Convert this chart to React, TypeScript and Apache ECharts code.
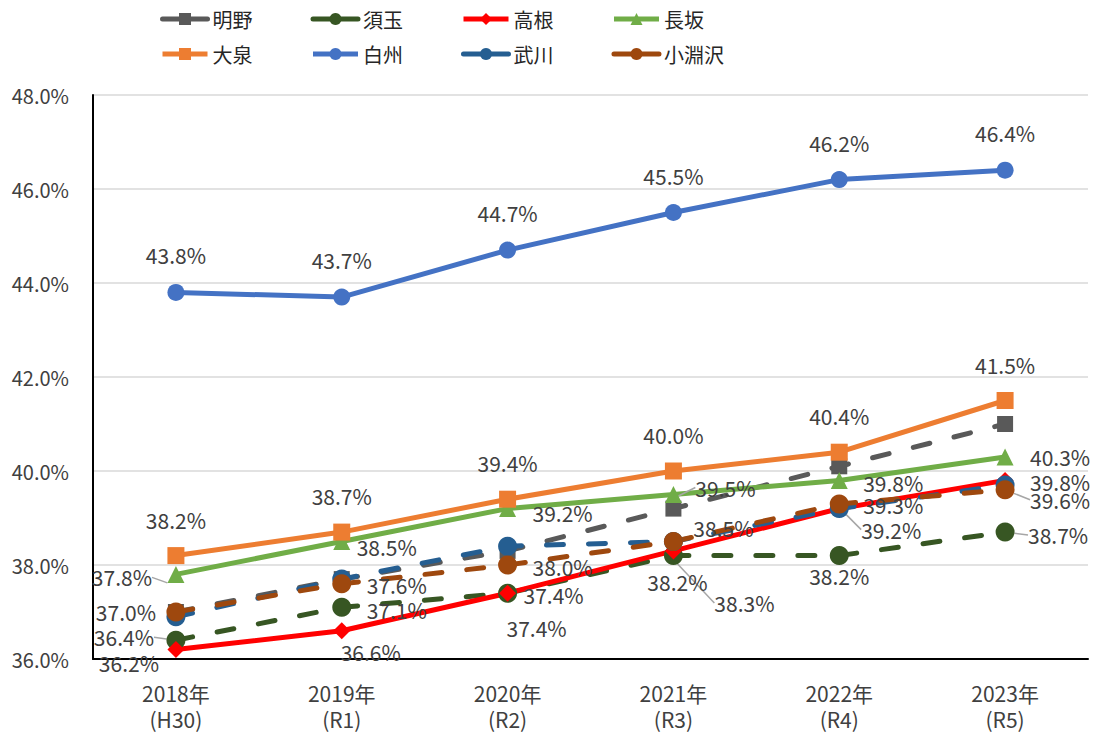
import React, { useEffect, useRef } from "react";
import * as echarts from "echarts";

const categories = ["2018年\n(H30)", "2019年\n(R1)", "2020年\n(R2)", "2021年\n(R3)", "2022年\n(R4)", "2023年\n(R5)"];
const yTicks = { min: 36, max: 48, interval: 2 };

const akeno = [37.0, 37.7, 38.3, 39.2, 40.1, 41.0];
const sudama = [36.4, 37.1, 37.4, 38.2, 38.2, 38.7];
const takane = [36.2, 36.6, 37.4, 38.3, 39.2, 39.8];
const nagasaka = [37.8, 38.5, 39.2, 39.5, 39.8, 40.3];
const oizumi = [38.2, 38.7, 39.4, 40.0, 40.4, 41.5];
const hakushu = [43.8, 43.7, 44.7, 45.5, 46.2, 46.4];
const mukawa = [36.9, 37.7, 38.4, 38.5, 39.2, 39.7];
const kobuchizawa = [37.0, 37.6, 38.0, 38.5, 39.3, 39.6];

type Spec = [number, number, boolean] | null;
const up37: Spec = [0, -37, false];
const up36: Spec = [0, -36, false];
const labelLayoutTable: Record<string, Spec[]> = {
  明野: [null, null, null, null, null, null],
  須玉: [[-52, -3, true], [55, 3, false], [46, 2, false], [4, 26, false], [0, 20, false], [53, 3, true]],
  高根: [[-47, 13, false], [29, 21, false], [29, 35, false], [71, 52, true], [52, 21, true], [55, 2, false]],
  長坂: [[-54, 3, true], [45, 5, false], [55, 4, false], [52, -7, true], [54, 3, false], [55, 0, false]],
  大泉: [up36, up36, up36, up36, up36, up36],
  白州: [up37, up37, up37, up37, up37, up37],
  武川: [null, null, null, null, null, null],
  小淵沢: [[-50, 0, false], [55, 1, false], [55, 2, false], [50, -14, false], [54, 1, false], [55, 10, true]],
};

const seriesDefs = [
  { name: "明野", values: akeno, color: "#595959", symbol: "rect", size: 16, dashed: true },
  { name: "須玉", values: sudama, color: "#375623", symbol: "circle", size: 19, dashed: true },
  { name: "高根", values: takane, color: "#ff0000", symbol: "diamond", size: 17, dashed: false },
  { name: "長坂", values: nagasaka, color: "#70ad47", symbol: "triangle", size: 17, dashed: false },
  { name: "大泉", values: oizumi, color: "#ed7d31", symbol: "rect", size: 17, dashed: false },
  { name: "白州", values: hakushu, color: "#4472c4", symbol: "circle", size: 17, dashed: false },
  { name: "武川", values: mukawa, color: "#255e91", symbol: "circle", size: 19, dashed: true },
  { name: "小淵沢", values: kobuchizawa, color: "#9e480e", symbol: "circle", size: 19, dashed: true },
];

const FONT = "'Noto Sans CJK JP', 'Noto Sans', sans-serif";

export default function App() {
  const ref = useRef<HTMLDivElement>(null);
  useEffect(() => {
    if (!ref.current) return;
    const chart = echarts.init(ref.current, undefined, { renderer: "svg" });
    const series = seriesDefs.map((s) => {
      const specs = labelLayoutTable[s.name];
      return {
        name: s.name,
        type: "line",
        symbol: s.symbol,
        symbolSize: s.size,
        itemStyle: { color: s.color },
        lineStyle: {
          color: s.color,
          width: 5,
          type: s.dashed ? [17, 25] : "solid",
          cap: s.dashed ? "round" : "butt",
        },
        data: s.values.map((v, i) => {
          const sp = specs[i];
          return {
            value: v,
            label: {
              show: sp != null,
              position: "inside",
              formatter: (p: any) => `${Number(p.value).toFixed(1)}%`,
              fontSize: 21,
              lineHeight: 18,
              color: "#404040",
              fontFamily: FONT,
            },
            labelLine: {
              show: sp != null && sp[2],
              lineStyle: { color: "#a6a6a6", width: 1.5 },
            },
          };
        }),
        labelLayout: (p: any) => {
          const sp = specs[p.dataIndex];
          if (!sp) return {};
          return { dx: sp[0], dy: sp[1] };
        },
      };
    });
    const legendItem = (s: any) => ({
      name: s.name,
      lineStyle: { type: "solid", cap: s.dashed ? "round" : "butt", width: 5 },
    });
    const legendCommon = {
      left: 160,
      orient: "horizontal",
      itemWidth: 45,
      itemHeight: 15,
      itemGap: 58,
      padding: 0,
      textStyle: { fontSize: 20, color: "#262626", fontFamily: FONT },
    };
    chart.setOption({
      animation: false,
      backgroundColor: "#ffffff",
      legend: [
        { ...legendCommon, top: 9, data: seriesDefs.slice(0, 4).map(legendItem) },
        { ...legendCommon, top: 44, data: seriesDefs.slice(4).map(legendItem) },
      ],
      grid: { left: 93, right: 5, top: 95, bottom: 76, containLabel: false },
      xAxis: {
        type: "category",
        data: categories,
        boundaryGap: true,
        axisLine: { lineStyle: { color: "#000000", width: 2 } },
        axisTick: { show: false },
        axisLabel: { fontSize: 21, color: "#404040", fontFamily: FONT, lineHeight: 26, margin: 21 },
      },
      yAxis: {
        type: "value",
        min: yTicks.min,
        max: yTicks.max,
        interval: yTicks.interval,
        axisLine: { show: true, lineStyle: { color: "#000000", width: 2 } },
        axisTick: { show: false },
        splitLine: { lineStyle: { color: "#d9d9d9", width: 1.5 } },
        axisLabel: {
          fontSize: 20,
          color: "#404040",
          fontFamily: FONT,
          margin: 24,
          formatter: (v: number) => `${v.toFixed(1)}%`,
        },
      },
      series,
    });
    return () => chart.dispose();
  }, []);
  return <div ref={ref} style={{ position: "fixed", left: 0, top: 0, width: 1093, height: 735 }} />;
}
